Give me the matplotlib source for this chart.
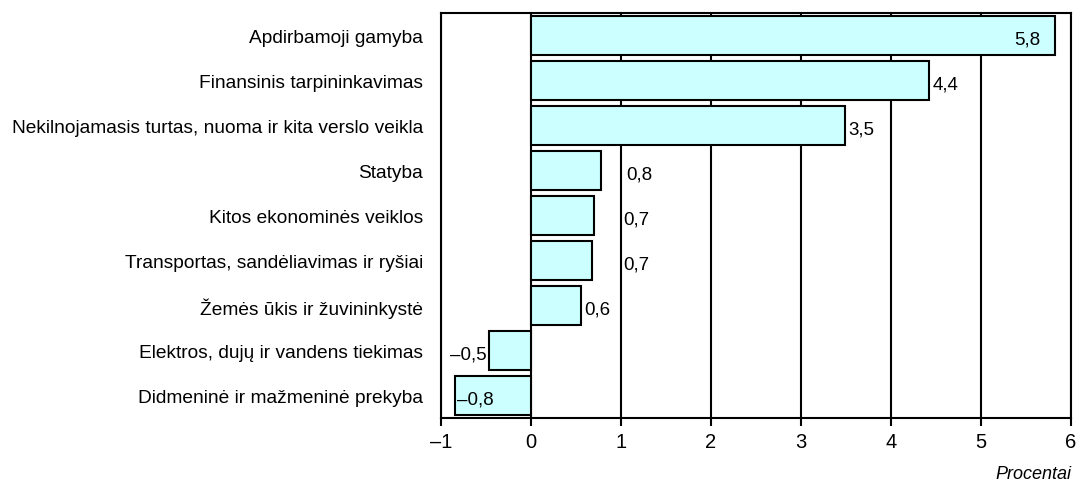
import matplotlib.pyplot as plt

plt.rcParams['font.family'] = ['Liberation Sans', 'DejaVu Sans']

# Data (top to bottom)
categories = [
    'Apdirbamoji gamyba',
    'Finansinis tarpininkavimas',
    'Nekilnojamasis turtas, nuoma ir kita verslo veikla',
    'Statyba',
    'Kitos ekonominės veiklos',
    'Transportas, sandėliavimas ir ryšiai',
    'Žemės ūkis ir žuvininkystė',
    'Elektros, dujų ir vandens tiekimas',
    'Didmeninė ir mažmeninė prekyba',
]
values = [5.82, 4.42, 3.49, 0.78, 0.70, 0.68, 0.55, -0.47, -0.85]
value_labels = ['5,8', '4,4', '3,5', '0,8', '0,7', '0,7', '0,6', '–0,5', '–0,8']
x_ticks = [-1, 0, 1, 2, 3, 4, 5, 6]
x_tick_labels = ['–1', '0', '1', '2', '3', '4', '5', '6']

# where each value label sits
placement = ['inside', 'out', 'out', 'grid', 'grid', 'grid', 'out', 'out', 'inside']

fig = plt.figure(figsize=(10.79, 4.85), dpi=100)
ax = fig.add_axes([441 / 1079, 1 - 419 / 485, 630 / 1079, 405 / 485])

y = list(range(len(categories)))[::-1]
ax.barh(y, values, height=0.87, color='#CCFFFF', edgecolor='black',
        linewidth=1.5, zorder=3)

fs = 13.5
for yi, v, lab, pl in zip(y, values, value_labels, placement):
    yt = yi - 0.08
    if pl == 'inside':
        if v > 0:
            ax.text(v - 0.16, yt, lab, ha='right', va='center', fontsize=fs, zorder=4)
        else:
            ax.text(v + 0.03, yt, lab, ha='left', va='center', fontsize=fs, zorder=4)
    elif pl == 'grid':
        ax.text(1.02 + (0.04 if lab == '0,8' else 0), yt, lab, ha='left',
                va='center', fontsize=fs, zorder=4)
    else:
        if v > 0:
            ax.text(v + 0.04, yt, lab, ha='left', va='center', fontsize=fs, zorder=4)
        else:
            ax.text(v - 0.02, yt, lab, ha='right', va='center', fontsize=fs, zorder=4)

ax.set_xlim(-1, 6)
ax.set_ylim(-0.5, len(categories) - 0.5)
ax.set_xticks(x_ticks)
ax.set_xticklabels(x_tick_labels, fontsize=14.5)
ax.set_yticks(y)
ax.set_yticklabels(categories, fontsize=13.8)

ax.grid(axis='x', color='black', linewidth=1.5, zorder=0)
ax.set_axisbelow(True)
ax.tick_params(axis='y', length=0, pad=13)
ax.tick_params(axis='x', direction='out', length=6, width=1.5, pad=4)
for s in ax.spines.values():
    s.set_linewidth(1.5)

fig.text(1071 / 1079, 1 - 475 / 485, 'Procentai', ha='right', va='center',
         fontsize=13, style='italic')

fig.savefig('out.png', dpi=100)
